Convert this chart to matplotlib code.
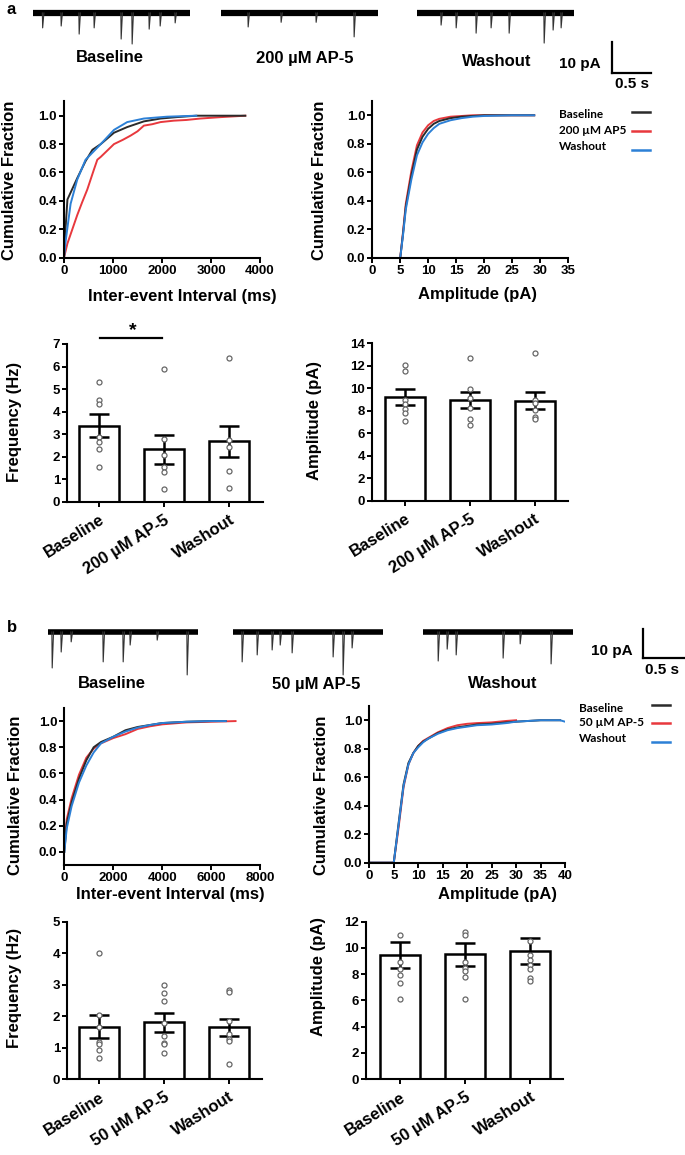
import matplotlib
matplotlib.use('Agg')
import matplotlib.pyplot as plt
from matplotlib.lines import Line2D

plt.rcParams['font.family'] = ['Liberation Sans', 'DejaVu Sans']
plt.rcParams['font.weight'] = 'bold'

W, H = 685, 1155

BLACK = '#2b2b2b'
RED = '#e8383d'
BLUE = '#2c80d6'

# ---------------- data: panel a ----------------
trace_a_labels = ['Baseline', '200 µM AP-5', 'Washout']
# event times (ms from trace start) and amplitudes (pA)
trace_a_events = [
    ([121, 357, 586, 777, 1121, 1261, 1478, 1618, 1809], [4.8, 4.2, 6.8, 4.8, 8.4, 10.0, 5.2, 4.2, 3.2]),
    ([344, 764, 1210, 1694], [4.5, 3.0, 3.0, 7.7]),
    ([305, 497, 751, 942, 1172, 1618, 1732, 1834], [3.9, 4.8, 6.5, 4.8, 6.5, 9.7, 5.5, 4.8]),
]

iei_a_base_x = [0, 30, 70, 110, 270, 440, 580, 750, 1020, 1290, 1630, 1970, 2300, 2700, 3700]
iei_a_base_y = [0, 0.2, 0.41, 0.44, 0.56, 0.68, 0.76, 0.80, 0.88, 0.92, 0.96, 0.98, 0.99, 1.0, 1.0]
iei_a_drug_x = [0, 70, 170, 270, 370, 475, 610, 680, 750, 1020, 1200, 1360, 1500, 1630, 1800, 1970,
                2240, 2500, 2780, 3200, 3700]
iei_a_drug_y = [0, 0.10, 0.20, 0.30, 0.39, 0.48, 0.62, 0.69, 0.71, 0.80, 0.83, 0.86, 0.89, 0.93, 0.94,
                0.955, 0.965, 0.97, 0.98, 0.99, 1.0]
iei_a_wash_x = [0, 35, 135, 270, 440, 750, 1020, 1290, 1630, 2100, 2700]
iei_a_wash_y = [0, 0.12, 0.38, 0.55, 0.69, 0.80, 0.90, 0.955, 0.98, 0.993, 1.0]

amp_a_x = [0, 5, 5.5, 6, 7, 8, 9, 10, 11, 12, 14, 16, 18, 20, 25, 29]
amp_a_base_y = [0, 0, 0.17, 0.36, 0.58, 0.76, 0.85, 0.905, 0.94, 0.96, 0.98, 0.99, 0.995, 1.0, 1.0, 1.0]
amp_a_drug_y = [0, 0, 0.18, 0.38, 0.61, 0.79, 0.88, 0.93, 0.96, 0.975, 0.99, 0.995, 1.0, 1.0, 1.0, 1.0]
amp_a_wash_y = [0, 0, 0.16, 0.34, 0.55, 0.72, 0.81, 0.87, 0.91, 0.94, 0.965, 0.98, 0.99, 0.995, 1.0, 1.0]

freq_a_mean = [3.38, 2.32, 2.68]
freq_a_sem = [0.52, 0.64, 0.68]
freq_a_points = [[5.33, 4.51, 4.33, 2.85, 2.66, 2.32, 1.55],
                 [5.87, 2.78, 2.07, 1.52, 1.32, 0.56],
                 [6.4, 2.74, 2.44, 1.36, 0.62]]

ampbar_a_mean = [9.2, 8.96, 8.9]
ampbar_a_sem = [0.7, 0.74, 0.74]
ampbar_a_points = [[12.08, 11.57, 8.96, 8.6, 8.2, 7.83, 7.12],
                   [12.67, 9.91, 9.11, 8.22, 7.24, 6.7],
                   [13.1, 9.0, 8.66, 8.07, 7.48, 7.24]]

# ---------------- data: panel b ----------------
trace_b_labels = ['Baseline', '50 µM AP-5', 'Washout']
trace_b_events = [
    ([48, 155, 274, 655, 893, 976, 1298, 1655], [12.4, 6.9, 3.4, 10.3, 10.3, 4.5, 2.8, 14.8]),
    ([107, 286, 464, 560, 702, 1190, 1309, 1416], [10.3, 7.9, 6.2, 4.5, 7.2, 8.6, 14.8, 5.5]),
    ([179, 286, 393, 952, 1155, 1523], [10.0, 5.9, 7.9, 9.0, 4.1, 11.0]),
]

iei_b_x = [0, 100, 300, 600, 900, 1200, 1500, 2000, 2500, 3000, 3500, 4000, 5000, 6000, 6600]
iei_b_base_y = [0.0, 0.22, 0.38, 0.56, 0.70, 0.80, 0.84, 0.88, 0.93, 0.955, 0.97, 0.985, 0.995, 1.0, 1.0]
iei_b_drug_x = [0, 100, 300, 600, 900, 1200, 1500, 2000, 2500, 3000, 3500, 4000, 5000, 6000, 7000]
iei_b_drug_y = [0.05, 0.25, 0.41, 0.59, 0.72, 0.79, 0.83, 0.87, 0.90, 0.94, 0.96, 0.975, 0.99, 0.995, 1.0]
iei_b_wash_y = [0.0, 0.18, 0.35, 0.53, 0.66, 0.76, 0.83, 0.88, 0.92, 0.95, 0.97, 0.985, 0.995, 1.0, 1.0]

amp_b_x = [0, 5, 6, 7, 8, 9, 10, 11, 12, 14, 16, 18, 20, 22, 25, 28, 30, 35, 39, 40]
amp_b_base_y = [0, 0, 0.28, 0.55, 0.70, 0.77, 0.82, 0.85, 0.87, 0.91, 0.935, 0.95, 0.96, 0.97, 0.975,
                0.985, 0.99, 1.0, 1.0]
amp_b_drug_y = [0, 0, 0.25, 0.53, 0.69, 0.77, 0.82, 0.855, 0.875, 0.915, 0.945, 0.965, 0.975, 0.98,
                0.985, 0.995, 1.0]
amp_b_wash_y = [0, 0, 0.27, 0.54, 0.69, 0.77, 0.81, 0.845, 0.87, 0.905, 0.93, 0.945, 0.955, 0.965,
                0.97, 0.98, 0.99, 1.0, 1.0, 0.99]

freq_b_mean = [1.66, 1.80, 1.64]
freq_b_sem = [0.37, 0.30, 0.28]
freq_b_points = [[3.99, 2.05, 1.66, 1.19, 1.11, 0.92, 0.68],
                 [2.99, 2.72, 2.49, 1.79, 1.37, 1.15, 1.11, 0.82],
                 [2.83, 2.78, 1.85, 1.42, 1.26, 1.21, 0.48]]

ampbar_b_mean = [9.46, 9.51, 9.76]
ampbar_b_sem = [0.96, 0.86, 0.99]
ampbar_b_points = [[10.96, 8.92, 8.36, 7.93, 7.35, 6.1],
                   [11.21, 10.96, 8.95, 8.44, 8.26, 7.75, 6.13],
                   [10.53, 9.46, 9.08, 8.7, 8.39, 7.68, 7.5]]

legend_a = ['Baseline', '200 µM AP5', 'Washout']
legend_b = ['Baseline', '50 µM AP-5', 'Washout']

LABEL_FS = 12
TICK_FS = 9.5

fig = plt.figure(figsize=(6.85, 11.55), dpi=100)


def px_axes(left, top, right, bottom):
    return fig.add_axes([left / W, 1 - bottom / H, (right - left) / W, (bottom - top) / H])


def ftext(x, y, s, **kw):
    kw.setdefault('ha', 'center')
    kw.setdefault('va', 'center')
    kw.setdefault('fontweight', 'bold')
    fig.text(x / W, 1 - y / H, s, **kw)


def fline(xs, ys, **kw):
    fig.add_artist(Line2D([x / W for x in xs], [1 - y / H for y in ys], transform=fig.transFigure, **kw))


def trace_axes(x0, width, base, ms_px, pa_px, top_pad=15, bottom_pad=50):
    ax = px_axes(x0, base - top_pad, x0 + width, base + bottom_pad)
    ax.set_xlim(0, width * ms_px)
    ax.set_ylim(-bottom_pad * pa_px, top_pad * pa_px)
    ax.axis('off')
    return ax


def draw_trace(ax, duration, events, lw):
    times, amps = events
    ax.plot([0, duration], [0, 0], color='black', lw=lw, solid_capstyle='butt')
    for t, a in zip(times, amps):
        ax.plot([t - 2, t + 2, t + 18], [0, -a, 0], color='#333333', lw=0.8)


def style_axes(ax, fs=TICK_FS):
    for s in ['top', 'right']:
        ax.spines[s].set_visible(False)
    for s in ['left', 'bottom']:
        ax.spines[s].set_linewidth(1.5)
    ax.tick_params(width=1.4, length=3.5, labelsize=fs, pad=1.5)
    for lab in ax.get_xticklabels() + ax.get_yticklabels():
        lab.set_fontweight('bold')


def bar_panel(ax, labels, means, sems, points, ymax, ystep, xlim):
    x = list(range(len(means)))
    ax.bar(x, means, width=0.615, color='white', edgecolor='black', linewidth=1.8, zorder=2)
    ax.errorbar(x, means, yerr=sems, fmt='none', ecolor='black', elinewidth=1.8, capsize=7,
                capthick=1.8, zorder=3)
    for i, vals in enumerate(points):
        ax.plot([i] * len(vals), vals, 'o', mfc='white', mec='#666666', ms=3.6, mew=0.9, zorder=4,
                clip_on=False)
    ax.set_xlim(*xlim)
    ax.set_ylim(0, ymax)
    ax.set_yticks(range(0, ymax + 1, ystep))
    ax.set_xticks(x)
    ax.set_xticklabels(labels, rotation=32, ha='right', rotation_mode='anchor')
    style_axes(ax)
    ax.tick_params(axis='x', labelsize=LABEL_FS, pad=4)


# ---------------- panel a ----------------
ftext(11, 10, 'a', fontsize=12)

ms_a, pa_a = 2000 / 157, 1 / 3.1
for x0, ev, lab, lx, ly in zip([33, 221, 417], trace_a_events, trace_a_labels, [110, 305, 497], [58, 58, 61]):
    ax = trace_axes(x0, 157, 13, ms_a, pa_a, top_pad=13)
    draw_trace(ax, 2000, ev, 4.5)
    ftext(lx, ly, lab, fontsize=LABEL_FS)

sb = trace_axes(612, 50, 73, ms_a, pa_a, top_pad=40, bottom_pad=5)
sb.plot([0, 0], [0, 10], color='black', lw=1.6, clip_on=False)
sb.plot([0, 500], [0, 0], color='black', lw=1.6, clip_on=False)
ftext(580, 64, '10 pA', fontsize=11)
ftext(632, 84, '0.5 s', fontsize=11)

ax = px_axes(64, 101.5, 260, 257.7)
ax.plot(iei_a_drug_x, iei_a_drug_y, color=RED, lw=1.4)
ax.plot(iei_a_base_x, iei_a_base_y, color=BLACK, lw=1.4)
ax.plot(iei_a_wash_x, iei_a_wash_y, color=BLUE, lw=1.4)
ax.set_xlim(0, 4000)
ax.set_ylim(0, 1.1)
ax.set_xticks([0, 1000, 2000, 3000, 4000])
ax.set_yticks([0, 0.2, 0.4, 0.6, 0.8, 1.0])
ax.set_yticklabels(['0.0', '0.2', '0.4', '0.6', '0.8', '1.0'])
style_axes(ax)
ftext(10, 180, 'Cumulative Fraction', fontsize=LABEL_FS, rotation=90)
ftext(182, 297, 'Inter-event Interval (ms)', fontsize=LABEL_FS)

ax = px_axes(372.3, 101, 567.7, 258)
ax.plot(amp_a_x, amp_a_drug_y, color=RED, lw=1.4)
ax.plot(amp_a_x, amp_a_base_y, color=BLACK, lw=1.4)
ax.plot(amp_a_x, amp_a_wash_y, color=BLUE, lw=1.4)
ax.set_xlim(0, 35)
ax.set_ylim(0, 1.1)
ax.set_xticks(range(0, 36, 5))
ax.set_yticks([0, 0.2, 0.4, 0.6, 0.8, 1.0])
ax.set_yticklabels(['0.0', '0.2', '0.4', '0.6', '0.8', '1.0'])
style_axes(ax)
ftext(319, 180, 'Cumulative Fraction', fontsize=LABEL_FS, rotation=90)
ftext(477, 295, 'Amplitude (pA)', fontsize=LABEL_FS)

for lab, ty, ly, c in zip(legend_a, [115, 131, 146], [112, 131, 150], [BLACK, RED, BLUE]):
    ftext(559, ty, lab, ha='left', fontsize=8.5, family=['Lato', 'DejaVu Sans'])
    fline([632, 650], [ly, ly], color=c, lw=1.8)

ax = px_axes(67, 344, 263, 501.7)
bar_panel(ax, trace_a_labels, freq_a_mean, freq_a_sem, freq_a_points, 7, 1, (-0.49, 2.52))
ax.plot([0.02, 0.97], [7.25, 7.25], color='black', lw=1.6, clip_on=False)
ax.text(0.52, 7.58, '*', ha='center', va='center', fontsize=14, fontweight='bold')
ftext(14.5, 422, 'Frequency (Hz)', fontsize=LABEL_FS, rotation=90)

ax = px_axes(371.7, 343.3, 568, 500.7)
bar_panel(ax, trace_a_labels, ampbar_a_mean, ampbar_a_sem, ampbar_a_points, 14, 2, (-0.51, 2.51))
ftext(315, 420, 'Amplitude (pA)', fontsize=LABEL_FS, rotation=90)

# ---------------- panel b ----------------
ftext(12, 627, 'b', fontsize=12)

ms_b, pa_b = 500 / 42, 1 / 2.9
for x0, ev, lab, lx in zip([48, 233, 423], trace_b_events, trace_b_labels, [112, 316, 503]):
    ax = trace_axes(x0, 150, 632, ms_b, pa_b)
    draw_trace(ax, 1780, ev, 4.0)
    ftext(lx, 684, lab, fontsize=LABEL_FS)

sb = trace_axes(643, 42, 658, ms_b, pa_b, top_pad=40, bottom_pad=5)
sb.plot([0, 0], [0, 10], color='black', lw=1.6, clip_on=False)
sb.plot([0, 500], [0, 0], color='black', lw=1.6, clip_on=False)
ftext(612, 651, '10 pA', fontsize=11)
ftext(662, 670, '0.5 s', fontsize=11)

ax = px_axes(64.3, 708, 260, 865)
ax.plot(iei_b_drug_x, iei_b_drug_y, color=RED, lw=1.4)
ax.plot(iei_b_x, iei_b_base_y, color=BLACK, lw=1.4)
ax.plot(iei_b_x, iei_b_wash_y, color=BLUE, lw=1.4)
ax.set_xlim(0, 8000)
ax.set_ylim(-0.1, 1.1)
ax.set_xticks([0, 2000, 4000, 6000, 8000])
ax.set_yticks([0, 0.2, 0.4, 0.6, 0.8, 1.0])
ax.set_yticklabels(['0.0', '0.2', '0.4', '0.6', '0.8', '1.0'])
style_axes(ax)
ftext(16, 795, 'Cumulative Fraction', fontsize=LABEL_FS, rotation=90)
ftext(170, 895, 'Inter-event Interval (ms)', fontsize=LABEL_FS)

ax = px_axes(369.3, 706, 565, 862.7)
ax.plot(amp_b_x[:len(amp_b_drug_y)], amp_b_drug_y, color=RED, lw=1.4)
ax.plot(amp_b_x[:len(amp_b_base_y)], amp_b_base_y, color=BLACK, lw=1.4)
ax.plot(amp_b_x, amp_b_wash_y, color=BLUE, lw=1.4)
ax.set_xlim(0, 40)
ax.set_ylim(0, 1.1)
ax.set_xticks(range(0, 41, 5))
ax.set_yticks([0, 0.2, 0.4, 0.6, 0.8, 1.0])
ax.set_yticklabels(['0.0', '0.2', '0.4', '0.6', '0.8', '1.0'])
style_axes(ax)
ftext(322, 795, 'Cumulative Fraction', fontsize=LABEL_FS, rotation=90)
ftext(498, 895, 'Amplitude (pA)', fontsize=LABEL_FS)

for lab, ty, ly, c in zip(legend_b, [708, 723, 739], [705, 723, 742], [BLACK, RED, BLUE]):
    ftext(579, ty, lab, ha='left', fontsize=8.5, family=['Lato', 'DejaVu Sans'])
    fline([652, 670], [ly, ly], color=c, lw=1.8)

ax = px_axes(67, 921.7, 262, 1079)
bar_panel(ax, trace_b_labels, freq_b_mean, freq_b_sem, freq_b_points, 5, 1, (-0.49, 2.51))
ftext(15, 988, 'Frequency (Hz)', fontsize=LABEL_FS, rotation=90)

ax = px_axes(366, 921.7, 562.7, 1079)
bar_panel(ax, trace_b_labels, ampbar_b_mean, ampbar_b_sem, ampbar_b_points, 12, 2, (-0.53, 2.5))
ftext(318, 977, 'Amplitude (pA)', fontsize=LABEL_FS, rotation=90)

fig.savefig('out.png', dpi=100)
